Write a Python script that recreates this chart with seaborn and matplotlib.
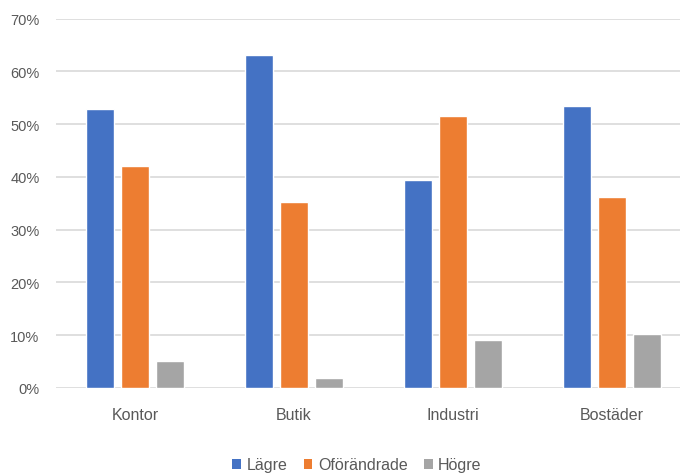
import matplotlib
matplotlib.use("Agg")
import matplotlib.pyplot as plt
from matplotlib.ticker import PercentFormatter
from matplotlib.patches import Patch
import seaborn as sns
import pandas as pd

categories = ["Kontor", "Butik", "Industri", "Bostäder"]
series_names = ["Lägre", "Oförändrade", "Högre"]
lagre = [0.528, 0.631, 0.394, 0.534]
oforandrade = [0.421, 0.352, 0.516, 0.362]
hogre = [0.051, 0.019, 0.090, 0.102]
colors = ["#4472C4", "#ED7D31", "#A5A5A5"]

rows = []
for name, vals in zip(series_names, [lagre, oforandrade, hogre]):
    for cat, v in zip(categories, vals):
        rows.append({"Kategori": cat, "Serie": name, "Andel": v})
df = pd.DataFrame(rows)

sns.set_theme(style="white")
plt.rcParams["font.family"] = ["Liberation Sans", "DejaVu Sans"]

fig = plt.figure(figsize=(6.8, 4.77), dpi=100)
ax = fig.add_axes([55.5 / 680, 88 / 477, 636 / 680, 369.5 / 477])

sns.barplot(data=df, x="Kategori", y="Andel", hue="Serie", order=categories,
            hue_order=series_names, palette=colors, width=0.666, gap=0.21,
            saturation=1, legend=False, ax=ax, zorder=3)

ax.set_ylim(0, 0.7)
ax.set_yticks([i / 10 for i in range(8)])
ax.yaxis.set_major_formatter(PercentFormatter(1.0, decimals=0))
ax.grid(axis="y", color="#D9D9D9", linewidth=1.2, zorder=0)
ax.set_axisbelow(True)
for s in ax.spines.values():
    s.set_visible(False)
ax.set_xlabel("")
ax.set_ylabel("")
ax.tick_params(axis="both", length=0, colors="#595959")
ax.tick_params(axis="y", pad=11.5, labelsize=10.5)
ax.tick_params(axis="x", pad=14, labelsize=11.5)

handles = [Patch(facecolor=c, edgecolor="none") for c in colors]
fig.legend(handles, series_names, loc="center", bbox_to_anchor=(357 / 680, 1 - 466 / 477),
           ncol=3, frameon=False, fontsize=11.5, handlelength=0.55, handleheight=0.6,
           handletextpad=0.35, columnspacing=1.0, labelcolor="#595959")

fig.savefig("out.png", dpi=100)
